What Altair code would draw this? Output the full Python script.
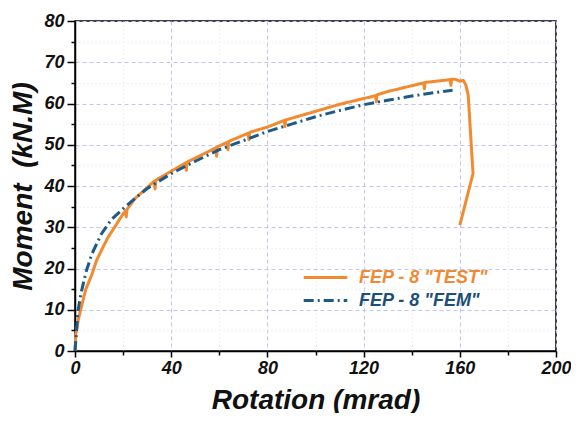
import altair as alt
import pandas as pd

# ---- data ----
test_rot = [0, 0.3, 0.8, 1.5, 2.6, 4.5, 6.8, 9, 11.5, 13.7, 17, 19.5, 21, 21.3, 21.6, 25, 30, 33, 33.3, 33.6,
            40, 46, 46.3, 46.6, 55, 58.6, 58.9, 59.2, 63.3, 63.6, 63.9, 72, 72.3, 72.6, 80, 87, 87.3, 87.6,
            100, 110, 120, 125, 125.3, 125.6, 130, 140, 145, 145.3, 145.6, 150, 155, 156, 156.3, 156.6,
            158, 160, 161.5, 162.5, 163.5, 165.5, 160]
test_mom = [0, 4, 5.5, 8, 10.5, 15, 18.2, 22, 25, 27.5, 30.5, 32.8, 34, 32.5, 34.3, 37, 39.6, 41.2, 39.3, 41.4,
            43.6, 45.6, 43.8, 45.8, 48.2, 49.3, 47.2, 49.5, 50.6, 48.8, 50.8, 52.8, 51.2, 53, 54.3, 55.9, 54.4, 56,
            58.1, 59.8, 61.2, 61.9, 60.4, 62.1, 62.9, 64.3, 65, 63.6, 65.1, 65.4, 65.7, 65.8, 64.4, 65.9,
            65.9, 65.4, 65.6, 64.5, 62, 43, 30.5]
fem_rot = [0, 0.4, 1.2, 2.5, 4.7, 7, 10.9, 15, 20, 25, 30, 40, 50, 60, 70, 80, 90, 100, 110, 120, 130, 140, 150, 157]
fem_mom = [0, 3, 9.5, 14, 19.4, 23.5, 28.3, 31.8, 34.5, 37, 39.4, 43, 46, 48.8, 51, 53.2, 55, 56.8, 58.3, 59.7,
           60.8, 61.8, 62.7, 63.2]

s_test = 'FEP - 8 "TEST"'
s_fem = 'FEP - 8 "FEM"'
series_names = [s_test, s_fem]
series_colors = ["#F28A30", "#1D5A87"]
series_dash = [[1, 0], [10, 4, 2, 4]]

df_test = pd.DataFrame({"rot": test_rot, "mom": test_mom, "series": s_test, "idx": range(len(test_rot))})
df_fem = pd.DataFrame({"rot": fem_rot, "mom": fem_mom, "series": s_fem, "idx": range(len(fem_rot))})

FONT = "Liberation Sans"

x_enc = alt.X(
    "rot:Q",
    scale=alt.Scale(domain=[0, 200], nice=False, zero=False),
    axis=alt.Axis(
        title="Rotation (mrad)",
        values=list(range(0, 201, 20)),
        labelExpr="datum.value % 40 == 0 ? datum.label : ''",
        tickSize={"condition": {"test": "datum.value % 40 == 0", "value": 6}, "value": 4},
        gridColor={"condition": {"test": "datum.value % 40 == 0", "value": "#C4C4F2"}, "value": "#DCEBDC"},
        gridDash={"condition": {"test": "datum.value % 40 == 0", "value": [4, 3]}, "value": [1, 3]},
        labelPadding=2,
        titlePadding=9,
        titleFontSize=28,
    ),
)
y_enc = alt.Y(
    "mom:Q",
    scale=alt.Scale(domain=[0, 80], nice=False, zero=False),
    axis=alt.Axis(
        title="Moment\u00a0 (kN.M)",
        values=list(range(0, 81, 5)),
        labelExpr="datum.value % 10 == 0 ? datum.label : ''",
        tickSize={"condition": {"test": "datum.value % 10 == 0", "value": 8}, "value": 4},
        gridColor={"condition": {"test": "datum.value % 10 == 0", "value": "#C4C4F2"}, "value": "#DCEBDC"},
        gridDash={"condition": {"test": "datum.value % 10 == 0", "value": [4, 3]}, "value": [1, 3]},
        labelPadding=3,
        titlePadding=6,
        titleFontSize=28,
    ),
)

color_enc = alt.Color(
    "series:N",
    scale=alt.Scale(domain=series_names, range=series_colors),
    legend=alt.Legend(
        title=None,
        orient="none",
        legendX=227,
        legendY=245,
        symbolType="stroke",
        symbolSize=1900,
        symbolStrokeWidth=3,
        labelFontSize=18,
        labelFont=FONT,
        labelFontStyle="italic",
        labelFontWeight="bold",
        labelOffset=10,
        clipHeight=23,
        rowPadding=0,
        padding=0,
        labelColor={"expr": "length(datum.label) == 14 ? '#F08A32' : '#1B4F7A'"},
    ),
)
dash_enc = alt.StrokeDash(
    "series:N",
    scale=alt.Scale(domain=series_names, range=series_dash),
    legend=None,
)

base_mark = dict(strokeWidth=3, strokeCap="butt", strokeJoin="round")

test_line = alt.Chart(df_test).mark_line(**base_mark).encode(
    x=x_enc, y=y_enc, color=color_enc, strokeDash=dash_enc, order="idx:Q"
)
fem_line = alt.Chart(df_fem).mark_line(**base_mark).encode(
    x=x_enc, y=y_enc, color=color_enc, strokeDash=dash_enc, order="idx:Q"
)

chart = (
    alt.layer(test_line, fem_line)
    .properties(
        width=481,
        height=330,
        autosize=alt.AutoSizeParams(type="none"),
        padding={"left": 67, "top": 13, "right": 15, "bottom": 62},
        background="white",
    )
    .configure_view(stroke="#000000", strokeWidth=1.5)
    .configure_axis(
        domainColor="#000000",
        domainWidth=1.5,
        tickColor="#000000",
        tickWidth=1.5,
        labelFont=FONT,
        labelFontSize=18,
        labelFontStyle="italic",
        labelFontWeight="bold",
        labelColor="#111111",
        titleFont=FONT,
        titleFontStyle="italic",
        titleFontWeight="bold",
        titleColor="#111111",
        gridWidth=1,
        labelFlush=False,
    )
)

chart.save("out.html", embed_options={"renderer": "svg", "actions": False})
